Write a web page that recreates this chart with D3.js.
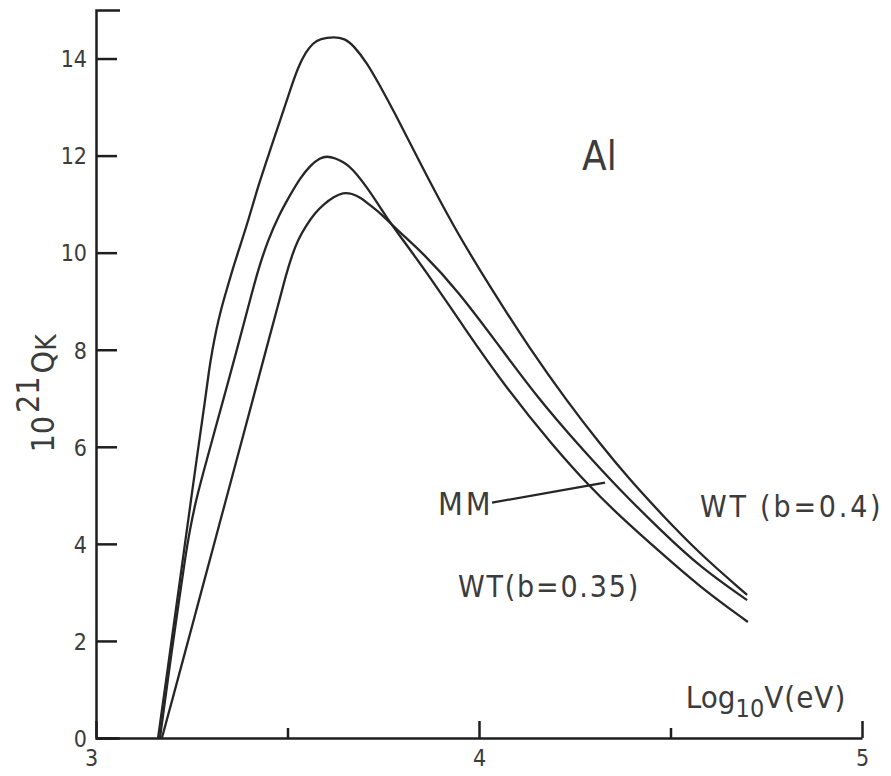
<!DOCTYPE html>
<html lang="en">
<head>
<meta charset="utf-8">
<title>Al K-shell cross sections</title>
<script src="https://cdn.jsdelivr.net/npm/d3@7"></script>
<style>
  body { margin: 0; background: #fff; }
  text { font-family: "DejaVu Sans Condensed", "Liberation Sans", sans-serif; fill: #3c3c3c; }
  .axis path, .axis line { stroke: #1e1e1e; stroke-width: 2.5px; }
  .curve { fill: none; stroke: #262626; stroke-width: 2.3px; }
</style>
</head>
<body>
<script>
// log10 V (eV) and 10^21 Q_K, one pair of lists per curve
var wt04X  = [3.162, 3.194, 3.212, 3.230, 3.248, 3.266, 3.285, 3.295, 3.304, 3.314, 3.326, 3.341, 3.356, 3.373, 3.398, 3.424, 3.452, 3.481, 3.507, 3.527, 3.548, 3.567, 3.585, 3.621, 3.650, 3.671, 3.708, 3.742, 3.776, 3.846, 3.932, 4.037, 4.133, 4.230, 4.316, 4.394, 4.473, 4.577, 4.700];
var wt04Y  = [0, 1.81, 2.84, 3.87, 4.90, 5.93, 6.96, 7.58, 8.00, 8.41, 8.82, 9.23, 9.64, 10.06, 10.67, 11.39, 12.05, 12.73, 13.35, 13.81, 14.14, 14.32, 14.41, 14.45, 14.41, 14.28, 13.91, 13.43, 12.94, 11.85, 10.55, 9.19, 8.02, 6.94, 6.06, 5.32, 4.64, 3.79, 2.95];

var wt035X = [3.167, 3.198, 3.217, 3.232, 3.245, 3.261, 3.282, 3.296, 3.332, 3.368, 3.402, 3.423, 3.449, 3.478, 3.507, 3.533, 3.561, 3.585, 3.603, 3.624, 3.650, 3.668, 3.708, 3.760, 3.794, 3.872, 3.958, 4.073, 4.193, 4.290, 4.368, 4.473, 4.577, 4.702];
var wt035Y = [0, 1.81, 2.84, 3.67, 4.29, 4.90, 5.52, 5.93, 6.96, 8.00, 9.02, 9.64, 10.26, 10.78, 11.19, 11.54, 11.81, 11.95, 11.99, 11.95, 11.85, 11.74, 11.35, 10.71, 10.34, 9.50, 8.49, 7.19, 6.02, 5.17, 4.57, 3.83, 3.11, 2.39];

var mmX    = [3.172, 3.199, 3.234, 3.269, 3.304, 3.339, 3.374, 3.409, 3.444, 3.479, 3.496, 3.512, 3.527, 3.548, 3.572, 3.595, 3.621, 3.645, 3.668, 3.692, 3.715, 3.742, 3.794, 3.854, 3.943, 4.047, 4.151, 4.264, 4.368, 4.473, 4.577, 4.700];
var mmY    = [0, 0.78, 1.81, 2.84, 3.87, 4.90, 5.93, 6.96, 8.00, 9.02, 9.54, 9.95, 10.26, 10.55, 10.82, 11.00, 11.15, 11.24, 11.22, 11.13, 10.98, 10.82, 10.41, 9.99, 9.23, 8.14, 7.03, 6.00, 5.11, 4.29, 3.52, 2.84];

var yTicks = [0, 2, 4, 6, 8, 10, 12, 14];
var xMajor = [3, 4, 5];
var xMinor = [3.5, 4.5];

var w = 891, h = 776;

var x = d3.scaleLinear().domain([3, 5]).range([96, 862]);
var y = d3.scaleLinear().domain([0, 15]).range([738, 10]);

var svg = d3.select("body").append("svg")
  .attr("width", w)
  .attr("height", h);

// y axis, ticks pointing into the plot
svg.append("g")
  .attr("class", "axis")
  .attr("transform", "translate(96,0)")
  .call(d3.axisLeft(y).tickValues(yTicks).tickFormat(d3.format("d")).tickSize(-21).tickSizeOuter(-24).tickPadding(9))
  .call(g => g.selectAll("text").attr("font-size", 23).attr("dy", "0.36em"));

// x axis
svg.append("g")
  .attr("class", "axis")
  .attr("transform", "translate(0,738)")
  .call(d3.axisBottom(x).tickValues(xMajor).tickFormat(d3.format("d")).tickSize(-17).tickSizeOuter(0).tickPadding(12))
  .call(g => g.selectAll("text").attr("font-size", 23).attr("dy", "0.71em"))
  .call(g => g.select(".tick text").attr("dx", -5));

svg.append("g")
  .attr("class", "axis")
  .attr("transform", "translate(0,738)")
  .call(d3.axisBottom(x).tickValues(xMinor).tickSize(-10).tickFormat(""))
  .call(g => g.select(".domain").remove());

var line = d3.line()
  .x(d => x(d[0]))
  .y(d => y(d[1]))
  .curve(d3.curveBasis);

[[wt04X, wt04Y], [wt035X, wt035Y], [mmX, mmY]].forEach(function (s) {
  svg.append("path")
    .attr("class", "curve")
    .attr("d", line(d3.zip(s[0], s[1])));
});

// y title 10^21 Q_K
var yt = svg.append("text")
  .attr("transform", `translate(54,${y(7.1)}) rotate(-90)`)
  .attr("text-anchor", "middle")
  .attr("font-size", 32);
yt.append("tspan").text("10");
yt.append("tspan").attr("dy", -15).attr("dx", 3).text("21");
yt.append("tspan").attr("dy", 15).attr("dx", 3).text("Q");
yt.append("tspan").attr("font-size", 28).attr("dy", 2).text("K");

// x title Log10 V (eV)
var xt = svg.append("text")
  .attr("x", x(4.540))
  .attr("y", y(0.62))
  .attr("font-size", 31);
xt.append("tspan").text("Log");
xt.append("tspan").attr("font-size", 25).attr("dy", 9).text("10");
xt.append("tspan").attr("dy", -9).attr("letter-spacing", 1).text("V(eV)");

// annotations
svg.append("text")
  .attr("x", x(4.269)).attr("y", y(11.71))
  .attr("font-size", 40)
  .text("Al");

svg.append("text")
  .attr("x", x(3.893)).attr("y", y(4.60))
  .attr("font-size", 32).attr("letter-spacing", 3)
  .text("MM");

svg.append("line")
  .attr("x1", x(4.034)).attr("y1", y(4.85))
  .attr("x2", x(4.329)).attr("y2", y(5.26))
  .attr("stroke", "#262626").attr("stroke-width", 2.3);

svg.append("text")
  .attr("x", x(4.577)).attr("y", y(4.56))
  .attr("font-size", 30).attr("letter-spacing", 2.8)
  .text("WT (b=0.4)");

svg.append("text")
  .attr("x", x(3.945)).attr("y", y(2.91))
  .attr("font-size", 30).attr("letter-spacing", 1.8)
  .text("WT(b=0.35)");
</script>
</body>
</html>
